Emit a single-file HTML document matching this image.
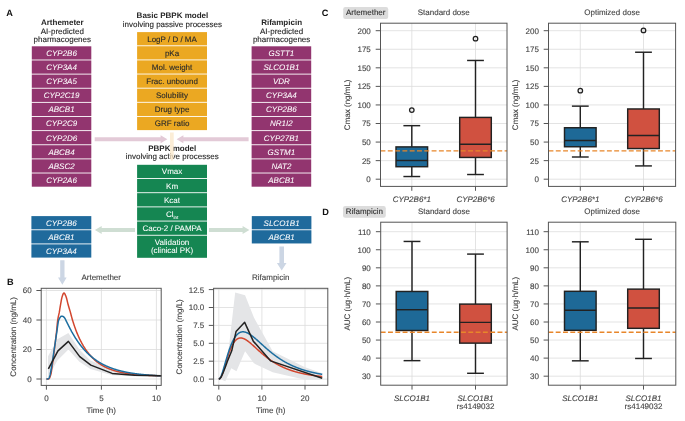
<!DOCTYPE html>
<html><head><meta charset="utf-8"><style>
html,body{margin:0;padding:0;background:#fff;}
svg{display:block;font-family:"Liberation Sans", sans-serif;text-rendering:geometricPrecision;will-change:transform;}
</style></head><body>
<svg width="685" height="421" viewBox="0 0 685 421" font-family='"Liberation Sans", sans-serif'>
<rect width="685" height="421" fill="#fff"/>
<text x="6.20" y="15.90" font-size="9.2" text-anchor="start" font-weight="bold" fill="#111" >A</text>
<text x="7.00" y="285.20" font-size="9.2" text-anchor="start" font-weight="bold" fill="#111" >B</text>
<text x="321.80" y="16.20" font-size="9.2" text-anchor="start" font-weight="bold" fill="#111" >C</text>
<text x="322.20" y="215.20" font-size="9.2" text-anchor="start" font-weight="bold" fill="#111" >D</text>
<text x="62.30" y="24.90" font-size="8" text-anchor="middle" font-weight="bold" fill="#262626" >Arthemeter</text>
<text x="62.30" y="33.50" font-size="8" text-anchor="middle" fill="#262626" stroke="#262626" stroke-width="0.12" >AI-predicted</text>
<text x="62.30" y="41.60" font-size="8" text-anchor="middle" fill="#262626" stroke="#262626" stroke-width="0.12" >pharmacogenes</text>
<text x="281.60" y="24.90" font-size="8" text-anchor="middle" font-weight="bold" fill="#262626" >Rifampicin</text>
<text x="281.60" y="33.50" font-size="8" text-anchor="middle" fill="#262626" stroke="#262626" stroke-width="0.12" >AI-predicted</text>
<text x="281.60" y="41.60" font-size="8" text-anchor="middle" fill="#262626" stroke="#262626" stroke-width="0.12" >pharmacogenes</text>
<text x="172.40" y="18.40" font-size="8" text-anchor="middle" font-weight="bold" fill="#262626" >Basic PBPK model</text>
<text x="172.40" y="26.80" font-size="8" text-anchor="middle" fill="#262626" stroke="#262626" stroke-width="0.12" >involving passive processes</text>
<text x="172.20" y="150.90" font-size="8" text-anchor="middle" font-weight="bold" fill="#262626" >PBPK model</text>
<text x="172.20" y="159.00" font-size="8" text-anchor="middle" fill="#262626" stroke="#262626" stroke-width="0.12" >involving active processes</text>
<rect x="31.80" y="46.30" width="59.50" height="13.23" fill="#92356F" />
<text x="61.55" y="55.81" font-size="8" text-anchor="middle" font-style="italic" fill="#fff" stroke="#fff" stroke-width="0.05" >CYP2B6</text>
<rect x="31.80" y="60.43" width="59.50" height="13.23" fill="#92356F" />
<text x="61.55" y="69.95" font-size="8" text-anchor="middle" font-style="italic" fill="#fff" stroke="#fff" stroke-width="0.05" >CYP3A4</text>
<rect x="31.80" y="74.56" width="59.50" height="13.23" fill="#92356F" />
<text x="61.55" y="84.08" font-size="8" text-anchor="middle" font-style="italic" fill="#fff" stroke="#fff" stroke-width="0.05" >CYP3A5</text>
<rect x="31.80" y="88.69" width="59.50" height="13.23" fill="#92356F" />
<text x="61.55" y="98.20" font-size="8" text-anchor="middle" font-style="italic" fill="#fff" stroke="#fff" stroke-width="0.05" >CYP2C19</text>
<rect x="31.80" y="102.82" width="59.50" height="13.23" fill="#92356F" />
<text x="61.55" y="112.33" font-size="8" text-anchor="middle" font-style="italic" fill="#fff" stroke="#fff" stroke-width="0.05" >ABCB1</text>
<rect x="31.80" y="116.95" width="59.50" height="13.23" fill="#92356F" />
<text x="61.55" y="126.46" font-size="8" text-anchor="middle" font-style="italic" fill="#fff" stroke="#fff" stroke-width="0.05" >CYP2C9</text>
<rect x="31.80" y="131.08" width="59.50" height="13.23" fill="#92356F" />
<text x="61.55" y="140.59" font-size="8" text-anchor="middle" font-style="italic" fill="#fff" stroke="#fff" stroke-width="0.05" >CYP2D6</text>
<rect x="31.80" y="145.21" width="59.50" height="13.23" fill="#92356F" />
<text x="61.55" y="154.72" font-size="8" text-anchor="middle" font-style="italic" fill="#fff" stroke="#fff" stroke-width="0.05" >ABCB4</text>
<rect x="31.80" y="159.34" width="59.50" height="13.23" fill="#92356F" />
<text x="61.55" y="168.85" font-size="8" text-anchor="middle" font-style="italic" fill="#fff" stroke="#fff" stroke-width="0.05" >ABSC2</text>
<rect x="31.80" y="173.47" width="59.50" height="13.23" fill="#92356F" />
<text x="61.55" y="182.98" font-size="8" text-anchor="middle" font-style="italic" fill="#fff" stroke="#fff" stroke-width="0.05" >CYP2A6</text>
<rect x="251.60" y="46.30" width="59.60" height="13.23" fill="#92356F" />
<text x="281.40" y="55.81" font-size="8" text-anchor="middle" font-style="italic" fill="#fff" stroke="#fff" stroke-width="0.05" >GSTT1</text>
<rect x="251.60" y="60.43" width="59.60" height="13.23" fill="#92356F" />
<text x="281.40" y="69.95" font-size="8" text-anchor="middle" font-style="italic" fill="#fff" stroke="#fff" stroke-width="0.05" >SLCO1B1</text>
<rect x="251.60" y="74.56" width="59.60" height="13.23" fill="#92356F" />
<text x="281.40" y="84.08" font-size="8" text-anchor="middle" font-style="italic" fill="#fff" stroke="#fff" stroke-width="0.05" >VDR</text>
<rect x="251.60" y="88.69" width="59.60" height="13.23" fill="#92356F" />
<text x="281.40" y="98.20" font-size="8" text-anchor="middle" font-style="italic" fill="#fff" stroke="#fff" stroke-width="0.05" >CYP3A4</text>
<rect x="251.60" y="102.82" width="59.60" height="13.23" fill="#92356F" />
<text x="281.40" y="112.33" font-size="8" text-anchor="middle" font-style="italic" fill="#fff" stroke="#fff" stroke-width="0.05" >CYP2B6</text>
<rect x="251.60" y="116.95" width="59.60" height="13.23" fill="#92356F" />
<text x="281.40" y="126.46" font-size="8" text-anchor="middle" font-style="italic" fill="#fff" stroke="#fff" stroke-width="0.05" >NR1I2</text>
<rect x="251.60" y="131.08" width="59.60" height="13.23" fill="#92356F" />
<text x="281.40" y="140.59" font-size="8" text-anchor="middle" font-style="italic" fill="#fff" stroke="#fff" stroke-width="0.05" >CYP27B1</text>
<rect x="251.60" y="145.21" width="59.60" height="13.23" fill="#92356F" />
<text x="281.40" y="154.72" font-size="8" text-anchor="middle" font-style="italic" fill="#fff" stroke="#fff" stroke-width="0.05" >GSTM1</text>
<rect x="251.60" y="159.34" width="59.60" height="13.23" fill="#92356F" />
<text x="281.40" y="168.85" font-size="8" text-anchor="middle" font-style="italic" fill="#fff" stroke="#fff" stroke-width="0.05" >NAT2</text>
<rect x="251.60" y="173.47" width="59.60" height="13.23" fill="#92356F" />
<text x="281.40" y="182.98" font-size="8" text-anchor="middle" font-style="italic" fill="#fff" stroke="#fff" stroke-width="0.05" >ABCB1</text>
<rect x="137.10" y="32.10" width="69.90" height="13.23" fill="#EBA822" />
<text x="172.05" y="41.62" font-size="8" text-anchor="middle" fill="#2a2a2a" stroke="#2a2a2a" stroke-width="0.12" >LogP / D / MA</text>
<rect x="137.10" y="46.23" width="69.90" height="13.23" fill="#EBA822" />
<text x="172.05" y="55.75" font-size="8" text-anchor="middle" fill="#2a2a2a" stroke="#2a2a2a" stroke-width="0.12" >pKa</text>
<rect x="137.10" y="60.36" width="69.90" height="13.23" fill="#EBA822" />
<text x="172.05" y="69.88" font-size="8" text-anchor="middle" fill="#2a2a2a" stroke="#2a2a2a" stroke-width="0.12" >Mol. weight</text>
<rect x="137.10" y="74.49" width="69.90" height="13.23" fill="#EBA822" />
<text x="172.05" y="84.01" font-size="8" text-anchor="middle" fill="#2a2a2a" stroke="#2a2a2a" stroke-width="0.12" >Frac. unbound</text>
<rect x="137.10" y="88.62" width="69.90" height="13.23" fill="#EBA822" />
<text x="172.05" y="98.14" font-size="8" text-anchor="middle" fill="#2a2a2a" stroke="#2a2a2a" stroke-width="0.12" >Solubility</text>
<rect x="137.10" y="102.75" width="69.90" height="13.23" fill="#EBA822" />
<text x="172.05" y="112.27" font-size="8" text-anchor="middle" fill="#2a2a2a" stroke="#2a2a2a" stroke-width="0.12" >Drug type</text>
<rect x="137.10" y="116.88" width="69.90" height="13.23" fill="#EBA822" />
<text x="172.05" y="126.39" font-size="8" text-anchor="middle" fill="#2a2a2a" stroke="#2a2a2a" stroke-width="0.12" >GRF ratio</text>
<rect x="137.10" y="164.80" width="69.90" height="13.28" fill="#158652" />
<text x="172.05" y="174.34" font-size="8" text-anchor="middle" fill="#fff" stroke="#fff" stroke-width="0.05" >Vmax</text>
<rect x="137.10" y="178.98" width="69.90" height="13.28" fill="#158652" />
<text x="172.05" y="188.52" font-size="8" text-anchor="middle" fill="#fff" stroke="#fff" stroke-width="0.05" >Km</text>
<rect x="137.10" y="193.16" width="69.90" height="13.28" fill="#158652" />
<text x="172.05" y="202.70" font-size="8" text-anchor="middle" fill="#fff" stroke="#fff" stroke-width="0.05" >Kcat</text>
<rect x="137.10" y="207.34" width="69.90" height="13.28" fill="#158652" />
<text x="172.05" y="216.88" font-size="8" text-anchor="middle" fill="#fff" stroke="#fff" stroke-width="0.05" >Cl<tspan font-size="4.5" dy="2.2">int</tspan></text>
<rect x="137.10" y="221.52" width="69.90" height="13.28" fill="#158652" />
<text x="172.05" y="231.06" font-size="8" text-anchor="middle" fill="#fff" stroke="#fff" stroke-width="0.05" >Caco-2 / PAMPA</text>
<rect x="137.10" y="235.70" width="69.90" height="22.10" fill="#158652" />
<text x="172.05" y="245.00" font-size="8" text-anchor="middle" fill="#fff" stroke="#fff" stroke-width="0.05" >Validation</text>
<text x="172.05" y="253.10" font-size="8" text-anchor="middle" fill="#fff" stroke="#fff" stroke-width="0.05" >(clinical PK)</text>
<rect x="31.40" y="216.10" width="59.90" height="13.23" fill="#1F6A9C" />
<text x="61.35" y="225.62" font-size="8" text-anchor="middle" font-style="italic" fill="#fff" stroke="#fff" stroke-width="0.05" >CYP2B6</text>
<rect x="31.40" y="230.23" width="59.90" height="13.23" fill="#1F6A9C" />
<text x="61.35" y="239.75" font-size="8" text-anchor="middle" font-style="italic" fill="#fff" stroke="#fff" stroke-width="0.05" >ABCB1</text>
<rect x="31.40" y="244.36" width="59.90" height="13.23" fill="#1F6A9C" />
<text x="61.35" y="253.88" font-size="8" text-anchor="middle" font-style="italic" fill="#fff" stroke="#fff" stroke-width="0.05" >CYP3A4</text>
<rect x="251.80" y="216.10" width="59.60" height="13.23" fill="#1F6A9C" />
<text x="281.60" y="225.62" font-size="8" text-anchor="middle" font-style="italic" fill="#fff" stroke="#fff" stroke-width="0.05" >SLCO1B1</text>
<rect x="251.80" y="230.23" width="59.60" height="13.23" fill="#1F6A9C" />
<text x="281.60" y="239.75" font-size="8" text-anchor="middle" font-style="italic" fill="#fff" stroke="#fff" stroke-width="0.05" >ABCB1</text>
<polygon points="94.70,137.35 160.60,137.35 160.60,135.25 167.40,139.25 160.60,143.25 160.60,141.15 94.70,141.15" fill="#E3CAD7"/>
<polygon points="248.60,137.35 183.40,137.35 183.40,135.25 176.60,139.25 183.40,143.25 183.40,141.15 248.60,141.15" fill="#E3CAD7"/>
<polygon points="135.00,228.05 101.70,228.05 101.70,225.90 94.90,230.00 101.70,234.10 101.70,231.95 135.00,231.95" fill="#CFDED3"/>
<polygon points="209.00,228.05 242.60,228.05 242.60,225.90 249.40,230.00 242.60,234.10 242.60,231.95 209.00,231.95" fill="#CFDED3"/>
<polygon points="60.20,260.20 64.50,260.20 64.50,277.40 66.65,277.40 62.35,284.80 58.05,277.40 60.20,277.40" fill="#CCD6E4" />
<polygon points="279.40,246.60 284.00,246.60 284.00,263.00 286.50,263.00 281.70,270.60 276.90,263.00 279.40,263.00" fill="#CCD6E4" />
<polygon points="170.0,132.4 173.7,132.4 173.7,158.5 171.85,161.2 170.0,158.5" fill="#FAE7C8" opacity="0.75"/>
<g>
<clipPath id="cpL"><rect x="41.2" y="288.3" width="120" height="97.1"/></clipPath>
<line x1="46.40" y1="288.30" x2="46.40" y2="385.40" stroke="#DCDCDC" stroke-width="0.8" />
<line x1="101.40" y1="288.30" x2="101.40" y2="385.40" stroke="#DCDCDC" stroke-width="0.8" />
<line x1="156.40" y1="288.30" x2="156.40" y2="385.40" stroke="#DCDCDC" stroke-width="0.8" />
<line x1="41.20" y1="379.00" x2="161.20" y2="379.00" stroke="#DCDCDC" stroke-width="0.8" />
<line x1="41.20" y1="349.50" x2="161.20" y2="349.50" stroke="#DCDCDC" stroke-width="0.8" />
<line x1="41.20" y1="320.00" x2="161.20" y2="320.00" stroke="#DCDCDC" stroke-width="0.8" />
<line x1="41.20" y1="290.50" x2="161.20" y2="290.50" stroke="#DCDCDC" stroke-width="0.8" />
<g clip-path="url(#cpL)">
<polygon points="48.05,356.14 57.40,339.18 68.40,332.98 79.40,349.50 90.40,360.56 112.40,369.41 134.40,373.84 161.90,375.17 161.90,376.64 134.40,376.20 112.40,375.31 90.40,368.97 79.40,361.74 68.40,349.50 57.40,360.56 48.05,377.52" fill="#E4E5E7"/>
<polyline points="46.40,379.00 46.69,379.00 46.98,379.00 47.28,379.00 47.57,379.00 47.86,379.00 48.15,379.00 48.45,379.00 48.74,378.98 49.03,378.77 49.32,378.38 49.61,377.83 49.91,377.15 50.20,376.38 50.49,375.52 50.78,374.63 51.08,373.47 51.37,371.87 51.66,369.94 51.95,367.84 52.24,365.70 52.54,363.65 52.83,361.56 53.12,359.39 53.41,357.14 53.71,354.85 54.00,352.52 54.29,350.17 54.58,347.83 54.87,345.49 55.17,343.16 55.46,340.81 55.75,338.41 56.04,335.96 56.34,333.44 56.63,330.79 56.92,327.76 57.21,324.63 57.50,321.77 57.80,319.56 58.09,317.86 58.38,316.41 58.67,315.10 58.97,313.80 59.26,312.39 59.55,310.76 59.84,308.95 60.13,307.08 60.43,305.29 60.72,303.66 61.01,302.04 61.30,300.44 61.60,298.95 61.89,297.64 62.18,296.58 62.47,295.72 62.76,294.88 63.06,294.13 63.35,293.52 63.64,293.12 63.93,293.01 64.23,293.14 64.52,293.44 64.81,293.89 65.10,294.44 65.39,295.06 65.69,295.73 65.98,296.40 66.27,297.19 66.56,298.19 66.86,299.34 67.15,300.57 67.44,301.84 67.73,303.07 68.03,304.20 68.32,305.24 68.61,306.26 68.90,307.27 69.19,308.26 69.49,309.23 69.78,310.18 70.07,311.11 70.36,312.12 70.66,313.28 70.95,314.42 71.24,315.53 71.53,316.61 71.82,317.66 72.12,318.69 72.41,319.69 72.70,320.68 72.99,321.63 73.29,322.57 73.58,323.49 73.87,324.39 74.16,325.27 74.45,326.13 74.75,326.97 75.04,327.80 75.33,328.61 75.62,329.40 75.92,330.18 76.21,330.94 76.50,331.69 76.79,332.42 77.08,333.14 77.38,333.85 77.67,334.54 77.96,335.22 78.25,335.89 78.55,336.55 78.84,337.19 79.13,337.82 79.42,338.44 79.71,339.06 80.01,339.66 80.30,340.25 80.59,340.83 80.88,341.40 81.18,341.96 81.47,342.51 81.76,343.05 82.05,343.58 82.34,344.10 82.64,344.62 82.93,345.12 83.22,345.62 83.51,346.11 83.81,346.59 84.10,347.06 84.39,347.53 84.68,347.99 84.97,348.44 85.27,348.88 85.56,349.32 85.85,349.75 86.14,350.17 86.44,350.58 86.73,350.99 87.02,351.39 87.31,351.79 87.60,352.17 87.90,352.56 88.19,352.93 88.48,353.30 88.77,353.67 89.07,354.03 89.36,354.38 89.65,354.73 89.94,355.07 90.23,355.40 90.53,355.73 90.82,356.06 91.11,356.38 91.40,356.69 91.70,357.00 91.99,357.31 92.28,357.61 92.57,357.90 92.86,358.19 93.16,358.48 93.45,358.76 93.74,359.04 94.03,359.31 94.33,359.58 94.62,359.84 94.91,360.10 95.20,360.36 95.49,360.61 95.79,360.86 96.08,361.10 96.37,361.34 96.66,361.58 96.96,361.81 97.25,362.04 97.54,362.26 97.83,362.48 98.12,362.70 98.42,362.92 98.71,363.13 99.00,363.33 99.29,363.54 99.59,363.74 99.88,363.94 100.17,364.13 100.46,364.32 100.75,364.51 101.05,364.70 101.34,364.88 101.63,365.06 101.92,365.24 102.22,365.41 102.51,365.58 102.80,365.75 103.09,365.92 103.38,366.08 103.68,366.24 103.97,366.40 104.26,366.56 104.55,366.71 104.85,366.86 105.14,367.01 105.43,367.15 105.72,367.30 106.02,367.44 106.31,367.58 106.60,367.72 106.89,367.85 107.18,367.98 107.48,368.11 107.77,368.24 108.06,368.37 108.35,368.49 108.65,368.62 108.94,368.74 109.23,368.86 109.52,368.97 109.81,369.09 110.11,369.20 110.40,369.31 110.69,369.42 110.98,369.53 111.28,369.64 111.57,369.74 111.86,369.84 112.15,369.94 112.44,370.04 112.74,370.14 113.03,370.24 113.32,370.33 113.61,370.43 113.91,370.52 114.20,370.61 114.49,370.70 114.78,370.79 115.07,370.87 115.37,370.96 115.66,371.04 115.95,371.12 116.24,371.20 116.54,371.28 116.83,371.36 117.12,371.44 117.41,371.52 117.70,371.59 118.00,371.66 118.29,371.74 118.58,371.81 118.87,371.88 119.17,371.95 119.46,372.01 119.75,372.08 120.04,372.15 120.33,372.21 120.63,372.27 120.92,372.34 121.21,372.40 121.50,372.46 121.80,372.52 122.09,372.58 122.38,372.64 122.67,372.69 122.96,372.75 123.26,372.80 123.55,372.86 123.84,372.91 124.13,372.97 124.43,373.02 124.72,373.07 125.01,373.12 125.30,373.17 125.59,373.22 125.89,373.26 126.18,373.31 126.47,373.36 126.76,373.40 127.06,373.45 127.35,373.49 127.64,373.54 127.93,373.58 128.22,373.62 128.52,373.66 128.81,373.70 129.10,373.74 129.39,373.78 129.69,373.82 129.98,373.86 130.27,373.90 130.56,373.93 130.85,373.97 131.15,374.01 131.44,374.04 131.73,374.08 132.02,374.11 132.32,374.14 132.61,374.18 132.90,374.21 133.19,374.24 133.48,374.27 133.78,374.30 134.07,374.33 134.36,374.36 134.65,374.39 134.95,374.42 135.24,374.45 135.53,374.48 135.82,374.51 136.11,374.54 136.41,374.56 136.70,374.59 136.99,374.61 137.28,374.64 137.58,374.67 137.87,374.69 138.16,374.71 138.45,374.74 138.74,374.76 139.04,374.79 139.33,374.81 139.62,374.83 139.91,374.85 140.21,374.88 140.50,374.90 140.79,374.92 141.08,374.94 141.37,374.96 141.67,374.98 141.96,375.00 142.25,375.02 142.54,375.04 142.84,375.06 143.13,375.08 143.42,375.09 143.71,375.11 144.01,375.13 144.30,375.15 144.59,375.17 144.88,375.18 145.17,375.20 145.47,375.22 145.76,375.23 146.05,375.25 146.34,375.26 146.64,375.28 146.93,375.29 147.22,375.31 147.51,375.32 147.80,375.34 148.10,375.35 148.39,375.37 148.68,375.38 148.97,375.39 149.27,375.41 149.56,375.42 149.85,375.43 150.14,375.44 150.43,375.46 150.73,375.47 151.02,375.48 151.31,375.49 151.60,375.51 151.90,375.52 152.19,375.53 152.48,375.54 152.77,375.55 153.06,375.56 153.36,375.57 153.65,375.58 153.94,375.59 154.23,375.60 154.53,375.61 154.82,375.62 155.11,375.63 155.40,375.64 155.69,375.65 155.99,375.66 156.28,375.67 156.57,375.68 156.86,375.69 157.16,375.70 157.45,375.70 157.74,375.71 158.03,375.72 158.32,375.73 158.62,375.74 158.91,375.75 159.20,375.75 159.49,375.76 159.79,375.77 160.08,375.78 160.37,375.78 160.66,375.79 160.95,375.80 161.25,375.80 161.54,375.81 161.83,375.82 162.12,375.82 162.42,375.83 162.71,375.84 163.00,375.84" fill="none" stroke="#D2462E" stroke-width="1.5" stroke-linejoin="round"/>
<polyline points="46.40,379.00 46.69,379.00 46.98,378.98 47.28,378.96 47.57,378.92 47.86,378.88 48.15,378.82 48.45,378.62 48.74,378.28 49.03,377.84 49.32,377.32 49.61,376.64 49.91,375.65 50.20,374.41 50.49,373.00 50.78,371.51 51.08,370.01 51.37,368.37 51.66,366.54 51.95,364.61 52.24,362.65 52.54,360.73 52.83,358.80 53.12,356.83 53.41,354.85 53.71,352.88 54.00,350.92 54.29,348.96 54.58,347.00 54.87,345.04 55.17,343.08 55.46,341.10 55.75,339.12 56.04,337.15 56.34,335.19 56.63,333.25 56.92,331.33 57.21,329.24 57.50,327.01 57.80,324.82 58.09,322.83 58.38,321.21 58.67,320.11 58.97,319.46 59.26,318.85 59.55,318.30 59.84,317.79 60.13,317.34 60.43,316.96 60.72,316.64 61.01,316.40 61.30,316.24 61.60,316.17 61.89,316.17 62.18,316.20 62.47,316.26 62.76,316.36 63.06,316.49 63.35,316.66 63.64,316.88 63.93,317.14 64.23,317.45 64.52,317.81 64.81,318.22 65.10,318.70 65.39,319.24 65.69,319.84 65.98,320.45 66.27,321.05 66.56,321.65 66.86,322.24 67.15,322.84 67.44,323.43 67.73,324.02 68.03,324.60 68.32,325.18 68.61,325.76 68.90,326.34 69.19,326.91 69.49,327.47 69.78,328.04 70.07,328.59 70.36,329.15 70.66,329.69 70.95,330.24 71.24,330.77 71.53,331.31 71.82,331.84 72.12,332.36 72.41,332.88 72.70,333.39 72.99,333.90 73.29,334.40 73.58,334.90 73.87,335.39 74.16,335.88 74.45,336.36 74.75,336.84 75.04,337.31 75.33,337.78 75.62,338.24 75.92,338.69 76.21,339.15 76.50,339.59 76.79,340.03 77.08,340.47 77.38,340.90 77.67,341.33 77.96,341.75 78.25,342.17 78.55,342.58 78.84,342.99 79.13,343.39 79.42,343.79 79.71,344.19 80.01,344.58 80.30,344.96 80.59,345.34 80.88,345.72 81.18,346.09 81.47,346.46 81.76,346.82 82.05,347.18 82.34,347.53 82.64,347.88 82.93,348.23 83.22,348.57 83.51,348.91 83.81,349.24 84.10,349.58 84.39,349.90 84.68,350.22 84.97,350.54 85.27,350.86 85.56,351.17 85.85,351.48 86.14,351.78 86.44,352.08 86.73,352.38 87.02,352.67 87.31,352.96 87.60,353.25 87.90,353.53 88.19,353.81 88.48,354.09 88.77,354.36 89.07,354.63 89.36,354.90 89.65,355.16 89.94,355.42 90.23,355.68 90.53,355.93 90.82,356.18 91.11,356.43 91.40,356.68 91.70,356.92 91.99,357.16 92.28,357.40 92.57,357.63 92.86,357.86 93.16,358.09 93.45,358.31 93.74,358.54 94.03,358.76 94.33,358.98 94.62,359.19 94.91,359.40 95.20,359.61 95.49,359.82 95.79,360.03 96.08,360.23 96.37,360.43 96.66,360.63 96.96,360.82 97.25,361.01 97.54,361.20 97.83,361.39 98.12,361.58 98.42,361.76 98.71,361.95 99.00,362.12 99.29,362.30 99.59,362.48 99.88,362.65 100.17,362.82 100.46,362.99 100.75,363.16 101.05,363.32 101.34,363.49 101.63,363.65 101.92,363.81 102.22,363.97 102.51,364.12 102.80,364.27 103.09,364.43 103.38,364.58 103.68,364.73 103.97,364.87 104.26,365.02 104.55,365.16 104.85,365.30 105.14,365.44 105.43,365.58 105.72,365.72 106.02,365.85 106.31,365.98 106.60,366.11 106.89,366.24 107.18,366.37 107.48,366.50 107.77,366.63 108.06,366.75 108.35,366.87 108.65,366.99 108.94,367.11 109.23,367.23 109.52,367.35 109.81,367.46 110.11,367.58 110.40,367.69 110.69,367.80 110.98,367.91 111.28,368.02 111.57,368.13 111.86,368.23 112.15,368.34 112.44,368.44 112.74,368.54 113.03,368.64 113.32,368.74 113.61,368.84 113.91,368.94 114.20,369.04 114.49,369.13 114.78,369.23 115.07,369.32 115.37,369.41 115.66,369.50 115.95,369.59 116.24,369.68 116.54,369.77 116.83,369.85 117.12,369.94 117.41,370.02 117.70,370.11 118.00,370.19 118.29,370.27 118.58,370.35 118.87,370.43 119.17,370.51 119.46,370.59 119.75,370.66 120.04,370.74 120.33,370.81 120.63,370.89 120.92,370.96 121.21,371.03 121.50,371.11 121.80,371.18 122.09,371.25 122.38,371.31 122.67,371.38 122.96,371.45 123.26,371.52 123.55,371.58 123.84,371.65 124.13,371.71 124.43,371.77 124.72,371.84 125.01,371.90 125.30,371.96 125.59,372.02 125.89,372.08 126.18,372.14 126.47,372.20 126.76,372.25 127.06,372.31 127.35,372.37 127.64,372.42 127.93,372.48 128.22,372.53 128.52,372.59 128.81,372.64 129.10,372.69 129.39,372.74 129.69,372.79 129.98,372.84 130.27,372.89 130.56,372.94 130.85,372.99 131.15,373.04 131.44,373.09 131.73,373.13 132.02,373.18 132.32,373.23 132.61,373.27 132.90,373.32 133.19,373.36 133.48,373.40 133.78,373.45 134.07,373.49 134.36,373.53 134.65,373.57 134.95,373.62 135.24,373.66 135.53,373.70 135.82,373.74 136.11,373.78 136.41,373.81 136.70,373.85 136.99,373.89 137.28,373.93 137.58,373.96 137.87,374.00 138.16,374.04 138.45,374.07 138.74,374.11 139.04,374.14 139.33,374.18 139.62,374.21 139.91,374.24 140.21,374.28 140.50,374.31 140.79,374.34 141.08,374.37 141.37,374.41 141.67,374.44 141.96,374.47 142.25,374.50 142.54,374.53 142.84,374.56 143.13,374.59 143.42,374.62 143.71,374.65 144.01,374.67 144.30,374.70 144.59,374.73 144.88,374.76 145.17,374.78 145.47,374.81 145.76,374.84 146.05,374.86 146.34,374.89 146.64,374.92 146.93,374.94 147.22,374.97 147.51,374.99 147.80,375.01 148.10,375.04 148.39,375.06 148.68,375.09 148.97,375.11 149.27,375.13 149.56,375.15 149.85,375.18 150.14,375.20 150.43,375.22 150.73,375.24 151.02,375.26 151.31,375.28 151.60,375.30 151.90,375.33 152.19,375.35 152.48,375.37 152.77,375.39 153.06,375.40 153.36,375.42 153.65,375.44 153.94,375.46 154.23,375.48 154.53,375.50 154.82,375.52 155.11,375.54 155.40,375.55 155.69,375.57 155.99,375.59 156.28,375.61 156.57,375.62 156.86,375.64 157.16,375.66 157.45,375.67 157.74,375.69 158.03,375.70 158.32,375.72 158.62,375.74 158.91,375.75 159.20,375.77 159.49,375.78 159.79,375.80 160.08,375.81 160.37,375.83 160.66,375.84 160.95,375.85 161.25,375.87 161.54,375.88 161.83,375.90 162.12,375.91 162.42,375.92 162.71,375.94 163.00,375.95" fill="none" stroke="#1C6EA0" stroke-width="1.5" stroke-linejoin="round"/>
<polyline points="48.38,368.82 57.95,350.83 68.40,341.39 79.73,356.58 90.84,365.13 112.18,373.39 134.40,375.17 163.00,375.90" fill="none" stroke="#222222" stroke-width="1.5" stroke-linejoin="round" stroke-linecap="butt"/>
</g>
<rect x="41.20" y="288.30" width="120.00" height="97.10" fill="none" stroke="#555555" stroke-width="1"/>
<line x1="46.40" y1="385.40" x2="46.40" y2="389.70" stroke="#555555" stroke-width="1" />
<text x="46.40" y="400.90" font-size="8" text-anchor="middle" fill="#444444" stroke="#444444" stroke-width="0.12" >0</text>
<line x1="101.40" y1="385.40" x2="101.40" y2="389.70" stroke="#555555" stroke-width="1" />
<text x="101.40" y="400.90" font-size="8" text-anchor="middle" fill="#444444" stroke="#444444" stroke-width="0.12" >5</text>
<line x1="156.40" y1="385.40" x2="156.40" y2="389.70" stroke="#555555" stroke-width="1" />
<text x="156.40" y="400.90" font-size="8" text-anchor="middle" fill="#444444" stroke="#444444" stroke-width="0.12" >10</text>
<line x1="36.40" y1="379.00" x2="41.20" y2="379.00" stroke="#555555" stroke-width="1" />
<text x="31.60" y="381.90" font-size="8" text-anchor="end" fill="#444444" stroke="#444444" stroke-width="0.12" >0</text>
<line x1="36.40" y1="349.50" x2="41.20" y2="349.50" stroke="#555555" stroke-width="1" />
<text x="31.60" y="352.40" font-size="8" text-anchor="end" fill="#444444" stroke="#444444" stroke-width="0.12" >20</text>
<line x1="36.40" y1="320.00" x2="41.20" y2="320.00" stroke="#555555" stroke-width="1" />
<text x="31.60" y="322.90" font-size="8" text-anchor="end" fill="#444444" stroke="#444444" stroke-width="0.12" >40</text>
<line x1="36.40" y1="290.50" x2="41.20" y2="290.50" stroke="#555555" stroke-width="1" />
<text x="31.60" y="293.40" font-size="8" text-anchor="end" fill="#444444" stroke="#444444" stroke-width="0.12" >60</text>
<text x="101.20" y="413.40" font-size="8" text-anchor="middle" fill="#444444" stroke="#444444" stroke-width="0.12" >Time (h)</text>
<text x="13.20" y="336.85" font-size="8" text-anchor="middle" fill="#444444" stroke="#444444" stroke-width="0.12" transform="rotate(-90 13.20 336.85)" dominant-baseline="central">Concentration (ng/mL)</text>
<text x="101.20" y="279.80" font-size="8" text-anchor="middle" fill="#444444" stroke="#444444" stroke-width="0.12" >Artemether</text>
</g>
<clipPath id="cpR"><rect x="213.6" y="288.3" width="114.2" height="97.0"/></clipPath>
<line x1="218.80" y1="288.30" x2="218.80" y2="385.30" stroke="#DCDCDC" stroke-width="0.8" />
<line x1="261.90" y1="288.30" x2="261.90" y2="385.30" stroke="#DCDCDC" stroke-width="0.8" />
<line x1="305.00" y1="288.30" x2="305.00" y2="385.30" stroke="#DCDCDC" stroke-width="0.8" />
<line x1="213.60" y1="379.10" x2="327.80" y2="379.10" stroke="#DCDCDC" stroke-width="0.8" />
<line x1="213.60" y1="361.20" x2="327.80" y2="361.20" stroke="#DCDCDC" stroke-width="0.8" />
<line x1="213.60" y1="343.30" x2="327.80" y2="343.30" stroke="#DCDCDC" stroke-width="0.8" />
<line x1="213.60" y1="325.40" x2="327.80" y2="325.40" stroke="#DCDCDC" stroke-width="0.8" />
<line x1="213.60" y1="307.50" x2="327.80" y2="307.50" stroke="#DCDCDC" stroke-width="0.8" />
<line x1="213.60" y1="289.60" x2="327.80" y2="289.60" stroke="#DCDCDC" stroke-width="0.8" />
<g clip-path="url(#cpR)">
<polygon points="220.31,379.10 227.42,359.77 235.18,292.46 245.09,295.33 253.93,317.52 272.68,351.18 305.00,367.29 322.24,373.37 322.24,379.82 305.00,379.82 272.68,372.30 253.93,363.35 245.09,351.18 236.47,371.22 231.30,368.36 225.27,381.25 220.31,379.10" fill="#E4E5E7"/>
<polyline points="218.80,379.10 219.06,379.08 219.32,379.00 219.58,378.86 219.84,378.66 220.10,378.40 220.36,378.08 220.61,377.70 220.87,377.26 221.13,376.78 221.39,376.24 221.65,375.66 221.91,375.05 222.17,374.39 222.43,373.70 222.69,372.98 222.95,372.23 223.21,371.46 223.47,370.67 223.73,369.86 223.98,369.03 224.24,368.20 224.50,367.35 224.76,366.49 225.02,365.63 225.28,364.77 225.54,363.91 225.80,363.04 226.06,362.18 226.32,361.33 226.58,360.48 226.84,359.63 227.10,358.80 227.36,357.98 227.61,357.16 227.87,356.36 228.13,355.57 228.39,354.80 228.65,354.04 228.91,353.30 229.17,352.57 229.43,351.86 229.69,351.16 229.95,350.49 230.21,349.83 230.47,349.19 230.73,348.56 230.98,347.96 231.24,347.38 231.50,346.81 231.76,346.26 232.02,345.74 232.28,345.23 232.54,344.74 232.80,344.27 233.06,343.82 233.32,343.38 233.58,342.97 233.84,342.57 234.10,342.20 234.35,341.84 234.61,341.50 234.87,341.17 235.13,340.87 235.39,340.58 235.65,340.31 235.91,340.05 236.17,339.82 236.43,339.59 236.69,339.39 236.95,339.20 237.21,339.02 237.47,338.86 237.73,338.71 237.98,338.58 238.24,338.46 238.50,338.36 238.76,338.27 239.02,338.19 239.28,338.12 239.54,338.07 239.80,338.03 240.06,338.00 240.32,337.98 240.58,337.97 240.84,337.98 241.10,337.99 241.35,338.01 241.61,338.05 241.87,338.09 242.13,338.14 242.39,338.20 242.65,338.27 242.91,338.35 243.17,338.44 243.43,338.53 243.69,338.63 243.95,338.74 244.21,338.86 244.47,338.98 244.72,339.11 244.98,339.24 245.24,339.39 245.50,339.53 245.76,339.68 246.02,339.84 246.28,340.00 246.54,340.17 246.80,340.34 247.06,340.52 247.32,340.70 247.58,340.89 247.84,341.08 248.10,341.27 248.35,341.46 248.61,341.66 248.87,341.87 249.13,342.07 249.39,342.28 249.65,342.49 249.91,342.70 250.17,342.92 250.43,343.14 250.69,343.36 250.95,343.58 251.21,343.80 251.47,344.03 251.72,344.26 251.98,344.48 252.24,344.71 252.50,344.95 252.76,345.18 253.02,345.41 253.28,345.65 253.54,345.88 253.80,346.12 254.06,346.35 254.32,346.59 254.58,346.83 254.84,347.06 255.09,347.30 255.35,347.54 255.61,347.78 255.87,348.01 256.13,348.25 256.39,348.49 256.65,348.73 256.91,348.97 257.17,349.20 257.43,349.44 257.69,349.68 257.95,349.91 258.21,350.15 258.46,350.38 258.72,350.62 258.98,350.85 259.24,351.08 259.50,351.31 259.76,351.55 260.02,351.78 260.28,352.01 260.54,352.23 260.80,352.46 261.06,352.69 261.32,352.92 261.58,353.14 261.84,353.36 262.09,353.59 262.35,353.81 262.61,354.03 262.87,354.25 263.13,354.47 263.39,354.68 263.65,354.90 263.91,355.11 264.17,355.33 264.43,355.54 264.69,355.75 264.95,355.96 265.21,356.17 265.46,356.37 265.72,356.58 265.98,356.78 266.24,356.99 266.50,357.19 266.76,357.39 267.02,357.59 267.28,357.79 267.54,357.98 267.80,358.18 268.06,358.37 268.32,358.56 268.58,358.75 268.83,358.94 269.09,359.13 269.35,359.32 269.61,359.50 269.87,359.68 270.13,359.87 270.39,360.05 270.65,360.23 270.91,360.41 271.17,360.58 271.43,360.76 271.69,360.93 271.95,361.10 272.21,361.27 272.46,361.44 272.72,361.61 272.98,361.78 273.24,361.94 273.50,362.11 273.76,362.27 274.02,362.43 274.28,362.59 274.54,362.75 274.80,362.91 275.06,363.06 275.32,363.22 275.58,363.37 275.83,363.52 276.09,363.67 276.35,363.82 276.61,363.97 276.87,364.12 277.13,364.26 277.39,364.41 277.65,364.55 277.91,364.69 278.17,364.83 278.43,364.97 278.69,365.11 278.95,365.25 279.20,365.38 279.46,365.52 279.72,365.65 279.98,365.78 280.24,365.91 280.50,366.04 280.76,366.17 281.02,366.30 281.28,366.42 281.54,366.55 281.80,366.67 282.06,366.79 282.32,366.91 282.58,367.03 282.83,367.15 283.09,367.27 283.35,367.39 283.61,367.50 283.87,367.62 284.13,367.73 284.39,367.84 284.65,367.95 284.91,368.06 285.17,368.17 285.43,368.28 285.69,368.39 285.95,368.49 286.20,368.60 286.46,368.70 286.72,368.81 286.98,368.91 287.24,369.01 287.50,369.11 287.76,369.21 288.02,369.31 288.28,369.41 288.54,369.50 288.80,369.60 289.06,369.69 289.32,369.79 289.57,369.88 289.83,369.97 290.09,370.06 290.35,370.15 290.61,370.24 290.87,370.33 291.13,370.42 291.39,370.50 291.65,370.59 291.91,370.67 292.17,370.76 292.43,370.84 292.69,370.92 292.94,371.00 293.20,371.09 293.46,371.17 293.72,371.25 293.98,371.32 294.24,371.40 294.50,371.48 294.76,371.55 295.02,371.63 295.28,371.70 295.54,371.78 295.80,371.85 296.06,371.92 296.32,372.00 296.57,372.07 296.83,372.14 297.09,372.21 297.35,372.28 297.61,372.34 297.87,372.41 298.13,372.48 298.39,372.55 298.65,372.61 298.91,372.68 299.17,372.74 299.43,372.80 299.69,372.87 299.94,372.93 300.20,372.99 300.46,373.05 300.72,373.11 300.98,373.17 301.24,373.23 301.50,373.29 301.76,373.35 302.02,373.41 302.28,373.47 302.54,373.52 302.80,373.58 303.06,373.63 303.31,373.69 303.57,373.74 303.83,373.80 304.09,373.85 304.35,373.90 304.61,373.95 304.87,374.01 305.13,374.06 305.39,374.11 305.65,374.16 305.91,374.21 306.17,374.26 306.43,374.31 306.69,374.35 306.94,374.40 307.20,374.45 307.46,374.50 307.72,374.54 307.98,374.59 308.24,374.63 308.50,374.68 308.76,374.72 309.02,374.77 309.28,374.81 309.54,374.85 309.80,374.90 310.06,374.94 310.31,374.98 310.57,375.02 310.83,375.06 311.09,375.10 311.35,375.14 311.61,375.18 311.87,375.22 312.13,375.26 312.39,375.30 312.65,375.34 312.91,375.38 313.17,375.41 313.43,375.45 313.68,375.49 313.94,375.52 314.20,375.56 314.46,375.59 314.72,375.63 314.98,375.66 315.24,375.70 315.50,375.73 315.76,375.77 316.02,375.80 316.28,375.83 316.54,375.87 316.80,375.90 317.06,375.93 317.31,375.96 317.57,376.00 317.83,376.03 318.09,376.06 318.35,376.09 318.61,376.12 318.87,376.15 319.13,376.18 319.39,376.21 319.65,376.24 319.91,376.27 320.17,376.29 320.43,376.32 320.68,376.35 320.94,376.38 321.20,376.40 321.46,376.43 321.72,376.46 321.98,376.49 322.24,376.51" fill="none" stroke="#D2462E" stroke-width="1.5" stroke-linejoin="round"/>
<polyline points="218.80,379.10 219.06,379.05 219.32,378.91 219.58,378.69 219.84,378.39 220.10,378.02 220.36,377.58 220.61,377.08 220.87,376.54 221.13,375.94 221.39,375.30 221.65,374.61 221.91,373.90 222.17,373.15 222.43,372.37 222.69,371.57 222.95,370.74 223.21,369.90 223.47,369.04 223.73,368.17 223.98,367.29 224.24,366.40 224.50,365.51 224.76,364.61 225.02,363.70 225.28,362.80 225.54,361.90 225.80,361.00 226.06,360.11 226.32,359.22 226.58,358.34 226.84,357.46 227.10,356.60 227.36,355.74 227.61,354.90 227.87,354.06 228.13,353.24 228.39,352.43 228.65,351.64 228.91,350.86 229.17,350.09 229.43,349.34 229.69,348.60 229.95,347.88 230.21,347.18 230.47,346.49 230.73,345.82 230.98,345.16 231.24,344.53 231.50,343.90 231.76,343.30 232.02,342.71 232.28,342.14 232.54,341.59 232.80,341.05 233.06,340.53 233.32,340.03 233.58,339.55 233.84,339.08 234.10,338.63 234.35,338.19 234.61,337.77 234.87,337.37 235.13,336.98 235.39,336.61 235.65,336.26 235.91,335.92 236.17,335.60 236.43,335.29 236.69,334.99 236.95,334.71 237.21,334.45 237.47,334.20 237.73,333.96 237.98,333.74 238.24,333.53 238.50,333.34 238.76,333.16 239.02,332.99 239.28,332.83 239.54,332.68 239.80,332.55 240.06,332.43 240.32,332.32 240.58,332.23 240.84,332.14 241.10,332.06 241.35,332.00 241.61,331.94 241.87,331.90 242.13,331.87 242.39,331.84 242.65,331.83 242.91,331.82 243.17,331.82 243.43,331.84 243.69,331.86 243.95,331.89 244.21,331.92 244.47,331.97 244.72,332.02 244.98,332.08 245.24,332.15 245.50,332.22 245.76,332.30 246.02,332.39 246.28,332.48 246.54,332.58 246.80,332.69 247.06,332.80 247.32,332.92 247.58,333.05 247.84,333.17 248.10,333.31 248.35,333.45 248.61,333.59 248.87,333.74 249.13,333.89 249.39,334.05 249.65,334.21 249.91,334.38 250.17,334.55 250.43,334.72 250.69,334.90 250.95,335.08 251.21,335.26 251.47,335.45 251.72,335.64 251.98,335.83 252.24,336.03 252.50,336.23 252.76,336.43 253.02,336.63 253.28,336.84 253.54,337.05 253.80,337.26 254.06,337.47 254.32,337.69 254.58,337.90 254.84,338.12 255.09,338.34 255.35,338.56 255.61,338.78 255.87,339.01 256.13,339.23 256.39,339.46 256.65,339.68 256.91,339.91 257.17,340.14 257.43,340.37 257.69,340.60 257.95,340.84 258.21,341.07 258.46,341.30 258.72,341.53 258.98,341.77 259.24,342.00 259.50,342.24 259.76,342.47 260.02,342.71 260.28,342.94 260.54,343.18 260.80,343.41 261.06,343.65 261.32,343.88 261.58,344.12 261.84,344.36 262.09,344.59 262.35,344.83 262.61,345.06 262.87,345.29 263.13,345.53 263.39,345.76 263.65,345.99 263.91,346.23 264.17,346.46 264.43,346.69 264.69,346.92 264.95,347.15 265.21,347.38 265.46,347.61 265.72,347.84 265.98,348.07 266.24,348.29 266.50,348.52 266.76,348.75 267.02,348.97 267.28,349.20 267.54,349.42 267.80,349.64 268.06,349.86 268.32,350.08 268.58,350.30 268.83,350.52 269.09,350.74 269.35,350.95 269.61,351.17 269.87,351.39 270.13,351.60 270.39,351.81 270.65,352.02 270.91,352.23 271.17,352.44 271.43,352.65 271.69,352.86 271.95,353.06 272.21,353.27 272.46,353.47 272.72,353.68 272.98,353.88 273.24,354.08 273.50,354.28 273.76,354.48 274.02,354.67 274.28,354.87 274.54,355.07 274.80,355.26 275.06,355.45 275.32,355.64 275.58,355.83 275.83,356.02 276.09,356.21 276.35,356.40 276.61,356.58 276.87,356.77 277.13,356.95 277.39,357.13 277.65,357.31 277.91,357.49 278.17,357.67 278.43,357.85 278.69,358.02 278.95,358.20 279.20,358.37 279.46,358.54 279.72,358.72 279.98,358.89 280.24,359.05 280.50,359.22 280.76,359.39 281.02,359.55 281.28,359.72 281.54,359.88 281.80,360.04 282.06,360.20 282.32,360.36 282.58,360.52 282.83,360.68 283.09,360.83 283.35,360.99 283.61,361.14 283.87,361.30 284.13,361.45 284.39,361.60 284.65,361.75 284.91,361.89 285.17,362.04 285.43,362.19 285.69,362.33 285.95,362.48 286.20,362.62 286.46,362.76 286.72,362.90 286.98,363.04 287.24,363.18 287.50,363.31 287.76,363.45 288.02,363.59 288.28,363.72 288.54,363.85 288.80,363.98 289.06,364.12 289.32,364.25 289.57,364.37 289.83,364.50 290.09,364.63 290.35,364.75 290.61,364.88 290.87,365.00 291.13,365.12 291.39,365.25 291.65,365.37 291.91,365.49 292.17,365.61 292.43,365.72 292.69,365.84 292.94,365.96 293.20,366.07 293.46,366.19 293.72,366.30 293.98,366.41 294.24,366.52 294.50,366.63 294.76,366.74 295.02,366.85 295.28,366.96 295.54,367.06 295.80,367.17 296.06,367.28 296.32,367.38 296.57,367.48 296.83,367.58 297.09,367.69 297.35,367.79 297.61,367.89 297.87,367.99 298.13,368.08 298.39,368.18 298.65,368.28 298.91,368.37 299.17,368.47 299.43,368.56 299.69,368.66 299.94,368.75 300.20,368.84 300.46,368.93 300.72,369.02 300.98,369.11 301.24,369.20 301.50,369.29 301.76,369.37 302.02,369.46 302.28,369.55 302.54,369.63 302.80,369.71 303.06,369.80 303.31,369.88 303.57,369.96 303.83,370.04 304.09,370.12 304.35,370.20 304.61,370.28 304.87,370.36 305.13,370.44 305.39,370.52 305.65,370.59 305.91,370.67 306.17,370.74 306.43,370.82 306.69,370.89 306.94,370.97 307.20,371.04 307.46,371.11 307.72,371.18 307.98,371.25 308.24,371.32 308.50,371.39 308.76,371.46 309.02,371.53 309.28,371.60 309.54,371.66 309.80,371.73 310.06,371.80 310.31,371.86 310.57,371.93 310.83,371.99 311.09,372.05 311.35,372.12 311.61,372.18 311.87,372.24 312.13,372.30 312.39,372.36 312.65,372.43 312.91,372.48 313.17,372.54 313.43,372.60 313.68,372.66 313.94,372.72 314.20,372.78 314.46,372.83 314.72,372.89 314.98,372.94 315.24,373.00 315.50,373.05 315.76,373.11 316.02,373.16 316.28,373.22 316.54,373.27 316.80,373.32 317.06,373.37 317.31,373.42 317.57,373.48 317.83,373.53 318.09,373.58 318.35,373.63 318.61,373.68 318.87,373.72 319.13,373.77 319.39,373.82 319.65,373.87 319.91,373.92 320.17,373.96 320.43,374.01 320.68,374.05 320.94,374.10 321.20,374.14 321.46,374.19 321.72,374.23 321.98,374.28 322.24,374.32" fill="none" stroke="#1C6EA0" stroke-width="1.5" stroke-linejoin="round"/>
<polyline points="218.80,379.10 219.88,378.53 220.96,377.31 222.03,375.16 223.11,372.66 225.27,367.29 227.42,361.20 231.73,350.82 236.04,331.56 244.66,322.32 253.28,341.15 270.52,360.84 322.24,378.24" fill="none" stroke="#222222" stroke-width="1.5" stroke-linejoin="round" stroke-linecap="butt"/>
</g>
<rect x="213.60" y="288.30" width="114.20" height="97.00" fill="none" stroke="#555555" stroke-width="1"/>
<line x1="218.80" y1="385.30" x2="218.80" y2="389.60" stroke="#555555" stroke-width="1" />
<text x="218.80" y="400.90" font-size="8" text-anchor="middle" fill="#444444" stroke="#444444" stroke-width="0.12" >0</text>
<line x1="261.90" y1="385.30" x2="261.90" y2="389.60" stroke="#555555" stroke-width="1" />
<text x="261.90" y="400.90" font-size="8" text-anchor="middle" fill="#444444" stroke="#444444" stroke-width="0.12" >10</text>
<line x1="305.00" y1="385.30" x2="305.00" y2="389.60" stroke="#555555" stroke-width="1" />
<text x="305.00" y="400.90" font-size="8" text-anchor="middle" fill="#444444" stroke="#444444" stroke-width="0.12" >20</text>
<line x1="208.80" y1="379.10" x2="213.60" y2="379.10" stroke="#555555" stroke-width="1" />
<text x="204.30" y="382.00" font-size="8" text-anchor="end" fill="#444444" stroke="#444444" stroke-width="0.12" >0.0</text>
<line x1="208.80" y1="361.20" x2="213.60" y2="361.20" stroke="#555555" stroke-width="1" />
<text x="204.30" y="364.10" font-size="8" text-anchor="end" fill="#444444" stroke="#444444" stroke-width="0.12" >2.5</text>
<line x1="208.80" y1="343.30" x2="213.60" y2="343.30" stroke="#555555" stroke-width="1" />
<text x="204.30" y="346.20" font-size="8" text-anchor="end" fill="#444444" stroke="#444444" stroke-width="0.12" >5.0</text>
<line x1="208.80" y1="325.40" x2="213.60" y2="325.40" stroke="#555555" stroke-width="1" />
<text x="204.30" y="328.30" font-size="8" text-anchor="end" fill="#444444" stroke="#444444" stroke-width="0.12" >7.5</text>
<line x1="208.80" y1="307.50" x2="213.60" y2="307.50" stroke="#555555" stroke-width="1" />
<text x="204.30" y="310.40" font-size="8" text-anchor="end" fill="#444444" stroke="#444444" stroke-width="0.12" >10.0</text>
<line x1="208.80" y1="289.60" x2="213.60" y2="289.60" stroke="#555555" stroke-width="1" />
<text x="204.30" y="292.50" font-size="8" text-anchor="end" fill="#444444" stroke="#444444" stroke-width="0.12" >12.5</text>
<text x="270.70" y="413.40" font-size="8" text-anchor="middle" fill="#444444" stroke="#444444" stroke-width="0.12" >Time (h)</text>
<text x="179.50" y="336.80" font-size="8" text-anchor="middle" fill="#444444" stroke="#444444" stroke-width="0.12" transform="rotate(-90 179.50 336.80)" dominant-baseline="central">Concentration (mg/L)</text>
<text x="270.70" y="280.10" font-size="8" text-anchor="middle" fill="#444444" stroke="#444444" stroke-width="0.12" >Rifampicin</text>
<line x1="380.50" y1="179.20" x2="507.00" y2="179.20" stroke="#DCDCDC" stroke-width="0.8" />
<line x1="380.50" y1="160.64" x2="507.00" y2="160.64" stroke="#DCDCDC" stroke-width="0.8" />
<line x1="380.50" y1="142.07" x2="507.00" y2="142.07" stroke="#DCDCDC" stroke-width="0.8" />
<line x1="380.50" y1="123.51" x2="507.00" y2="123.51" stroke="#DCDCDC" stroke-width="0.8" />
<line x1="380.50" y1="104.95" x2="507.00" y2="104.95" stroke="#DCDCDC" stroke-width="0.8" />
<line x1="380.50" y1="86.39" x2="507.00" y2="86.39" stroke="#DCDCDC" stroke-width="0.8" />
<line x1="380.50" y1="67.82" x2="507.00" y2="67.82" stroke="#DCDCDC" stroke-width="0.8" />
<line x1="380.50" y1="49.26" x2="507.00" y2="49.26" stroke="#DCDCDC" stroke-width="0.8" />
<line x1="380.50" y1="30.70" x2="507.00" y2="30.70" stroke="#DCDCDC" stroke-width="0.8" />
<line x1="411.80" y1="23.20" x2="411.80" y2="186.40" stroke="#DCDCDC" stroke-width="0.8" />
<line x1="475.50" y1="23.20" x2="475.50" y2="186.40" stroke="#DCDCDC" stroke-width="0.8" />
<line x1="411.80" y1="125.67" x2="411.80" y2="146.90" stroke="#222222" stroke-width="1.45" />
<line x1="411.80" y1="166.73" x2="411.80" y2="176.53" stroke="#222222" stroke-width="1.45" />
<line x1="403.40" y1="125.67" x2="420.20" y2="125.67" stroke="#222222" stroke-width="1.45" />
<line x1="403.40" y1="176.53" x2="420.20" y2="176.53" stroke="#222222" stroke-width="1.45" />
<rect x="396.00" y="146.90" width="31.60" height="19.82" fill="#1E6997" stroke="#222222" stroke-width="1.45"/>
<line x1="396.00" y1="160.49" x2="427.60" y2="160.49" stroke="#222222" stroke-width="1.45" />
<circle cx="411.80" cy="110.07" r="2.25" fill="none" stroke="#222222" stroke-width="1.3"/>
<line x1="475.50" y1="60.47" x2="475.50" y2="117.42" stroke="#222222" stroke-width="1.45" />
<line x1="475.50" y1="157.44" x2="475.50" y2="174.52" stroke="#222222" stroke-width="1.45" />
<line x1="467.10" y1="60.47" x2="483.90" y2="60.47" stroke="#222222" stroke-width="1.45" />
<line x1="467.10" y1="174.52" x2="483.90" y2="174.52" stroke="#222222" stroke-width="1.45" />
<rect x="459.70" y="117.42" width="31.60" height="40.02" fill="#D05140" stroke="#222222" stroke-width="1.45"/>
<line x1="459.70" y1="144.15" x2="491.30" y2="144.15" stroke="#222222" stroke-width="1.45" />
<circle cx="475.50" cy="38.64" r="2.25" fill="none" stroke="#222222" stroke-width="1.3"/>
<line x1="380.50" y1="150.84" x2="507.00" y2="150.84" stroke="#E8862A" stroke-width="1.4" stroke-dasharray="4.9 2.4"/>
<rect x="380.50" y="23.20" width="126.50" height="163.20" fill="none" stroke="#555555" stroke-width="1"/>
<line x1="375.70" y1="179.20" x2="380.50" y2="179.20" stroke="#555555" stroke-width="1" />
<text x="370.80" y="182.10" font-size="8" text-anchor="end" fill="#444444" stroke="#444444" stroke-width="0.12" >0</text>
<line x1="375.70" y1="160.64" x2="380.50" y2="160.64" stroke="#555555" stroke-width="1" />
<text x="370.80" y="163.54" font-size="8" text-anchor="end" fill="#444444" stroke="#444444" stroke-width="0.12" >25</text>
<line x1="375.70" y1="142.07" x2="380.50" y2="142.07" stroke="#555555" stroke-width="1" />
<text x="370.80" y="144.97" font-size="8" text-anchor="end" fill="#444444" stroke="#444444" stroke-width="0.12" >50</text>
<line x1="375.70" y1="123.51" x2="380.50" y2="123.51" stroke="#555555" stroke-width="1" />
<text x="370.80" y="126.41" font-size="8" text-anchor="end" fill="#444444" stroke="#444444" stroke-width="0.12" >75</text>
<line x1="375.70" y1="104.95" x2="380.50" y2="104.95" stroke="#555555" stroke-width="1" />
<text x="370.80" y="107.85" font-size="8" text-anchor="end" fill="#444444" stroke="#444444" stroke-width="0.12" >100</text>
<line x1="375.70" y1="86.39" x2="380.50" y2="86.39" stroke="#555555" stroke-width="1" />
<text x="370.80" y="89.29" font-size="8" text-anchor="end" fill="#444444" stroke="#444444" stroke-width="0.12" >125</text>
<line x1="375.70" y1="67.82" x2="380.50" y2="67.82" stroke="#555555" stroke-width="1" />
<text x="370.80" y="70.72" font-size="8" text-anchor="end" fill="#444444" stroke="#444444" stroke-width="0.12" >150</text>
<line x1="375.70" y1="49.26" x2="380.50" y2="49.26" stroke="#555555" stroke-width="1" />
<text x="370.80" y="52.16" font-size="8" text-anchor="end" fill="#444444" stroke="#444444" stroke-width="0.12" >175</text>
<line x1="375.70" y1="30.70" x2="380.50" y2="30.70" stroke="#555555" stroke-width="1" />
<text x="370.80" y="33.60" font-size="8" text-anchor="end" fill="#444444" stroke="#444444" stroke-width="0.12" >200</text>
<line x1="411.80" y1="186.40" x2="411.80" y2="190.80" stroke="#555555" stroke-width="1" />
<text x="411.80" y="201.90" font-size="8" text-anchor="middle" font-style="italic" fill="#444444" stroke="#444444" stroke-width="0.12" >CYP2B6*1</text>
<line x1="475.50" y1="186.40" x2="475.50" y2="190.80" stroke="#555555" stroke-width="1" />
<text x="475.50" y="201.90" font-size="8" text-anchor="middle" font-style="italic" fill="#444444" stroke="#444444" stroke-width="0.12" >CYP2B6*6</text>
<text x="347.80" y="104.80" font-size="8" text-anchor="middle" fill="#444444" stroke="#444444" stroke-width="0.12" transform="rotate(-90 347.80 104.80)" dominant-baseline="central">Cmax (ng/mL)</text>
<text x="443.75" y="15.30" font-size="8" text-anchor="middle" fill="#444444" stroke="#444444" stroke-width="0.12" >Standard dose</text>
<line x1="548.50" y1="179.20" x2="675.60" y2="179.20" stroke="#DCDCDC" stroke-width="0.8" />
<line x1="548.50" y1="160.64" x2="675.60" y2="160.64" stroke="#DCDCDC" stroke-width="0.8" />
<line x1="548.50" y1="142.07" x2="675.60" y2="142.07" stroke="#DCDCDC" stroke-width="0.8" />
<line x1="548.50" y1="123.51" x2="675.60" y2="123.51" stroke="#DCDCDC" stroke-width="0.8" />
<line x1="548.50" y1="104.95" x2="675.60" y2="104.95" stroke="#DCDCDC" stroke-width="0.8" />
<line x1="548.50" y1="86.39" x2="675.60" y2="86.39" stroke="#DCDCDC" stroke-width="0.8" />
<line x1="548.50" y1="67.82" x2="675.60" y2="67.82" stroke="#DCDCDC" stroke-width="0.8" />
<line x1="548.50" y1="49.26" x2="675.60" y2="49.26" stroke="#DCDCDC" stroke-width="0.8" />
<line x1="548.50" y1="30.70" x2="675.60" y2="30.70" stroke="#DCDCDC" stroke-width="0.8" />
<line x1="580.30" y1="23.20" x2="580.30" y2="186.40" stroke="#DCDCDC" stroke-width="0.8" />
<line x1="643.50" y1="23.20" x2="643.50" y2="186.40" stroke="#DCDCDC" stroke-width="0.8" />
<line x1="580.30" y1="106.14" x2="580.30" y2="127.74" stroke="#222222" stroke-width="1.45" />
<line x1="580.30" y1="146.75" x2="580.30" y2="157.00" stroke="#222222" stroke-width="1.45" />
<line x1="571.90" y1="106.14" x2="588.70" y2="106.14" stroke="#222222" stroke-width="1.45" />
<line x1="571.90" y1="157.00" x2="588.70" y2="157.00" stroke="#222222" stroke-width="1.45" />
<rect x="564.50" y="127.74" width="31.60" height="19.01" fill="#1E6997" stroke="#222222" stroke-width="1.45"/>
<line x1="564.50" y1="140.52" x2="596.10" y2="140.52" stroke="#222222" stroke-width="1.45" />
<circle cx="580.30" cy="90.69" r="2.25" fill="none" stroke="#222222" stroke-width="1.3"/>
<line x1="643.50" y1="52.23" x2="643.50" y2="108.96" stroke="#222222" stroke-width="1.45" />
<line x1="643.50" y1="148.53" x2="643.50" y2="165.91" stroke="#222222" stroke-width="1.45" />
<line x1="635.10" y1="52.23" x2="651.90" y2="52.23" stroke="#222222" stroke-width="1.45" />
<line x1="635.10" y1="165.91" x2="651.90" y2="165.91" stroke="#222222" stroke-width="1.45" />
<rect x="627.70" y="108.96" width="31.60" height="39.58" fill="#D05140" stroke="#222222" stroke-width="1.45"/>
<line x1="627.70" y1="135.54" x2="659.30" y2="135.54" stroke="#222222" stroke-width="1.45" />
<circle cx="643.50" cy="30.40" r="2.25" fill="none" stroke="#222222" stroke-width="1.3"/>
<line x1="548.50" y1="150.84" x2="675.60" y2="150.84" stroke="#E8862A" stroke-width="1.4" stroke-dasharray="4.9 2.4"/>
<rect x="548.50" y="23.20" width="127.10" height="163.20" fill="none" stroke="#555555" stroke-width="1"/>
<line x1="543.70" y1="179.20" x2="548.50" y2="179.20" stroke="#555555" stroke-width="1" />
<text x="538.90" y="182.10" font-size="8" text-anchor="end" fill="#444444" stroke="#444444" stroke-width="0.12" >0</text>
<line x1="543.70" y1="160.64" x2="548.50" y2="160.64" stroke="#555555" stroke-width="1" />
<text x="538.90" y="163.54" font-size="8" text-anchor="end" fill="#444444" stroke="#444444" stroke-width="0.12" >25</text>
<line x1="543.70" y1="142.07" x2="548.50" y2="142.07" stroke="#555555" stroke-width="1" />
<text x="538.90" y="144.97" font-size="8" text-anchor="end" fill="#444444" stroke="#444444" stroke-width="0.12" >50</text>
<line x1="543.70" y1="123.51" x2="548.50" y2="123.51" stroke="#555555" stroke-width="1" />
<text x="538.90" y="126.41" font-size="8" text-anchor="end" fill="#444444" stroke="#444444" stroke-width="0.12" >75</text>
<line x1="543.70" y1="104.95" x2="548.50" y2="104.95" stroke="#555555" stroke-width="1" />
<text x="538.90" y="107.85" font-size="8" text-anchor="end" fill="#444444" stroke="#444444" stroke-width="0.12" >100</text>
<line x1="543.70" y1="86.39" x2="548.50" y2="86.39" stroke="#555555" stroke-width="1" />
<text x="538.90" y="89.29" font-size="8" text-anchor="end" fill="#444444" stroke="#444444" stroke-width="0.12" >125</text>
<line x1="543.70" y1="67.82" x2="548.50" y2="67.82" stroke="#555555" stroke-width="1" />
<text x="538.90" y="70.72" font-size="8" text-anchor="end" fill="#444444" stroke="#444444" stroke-width="0.12" >150</text>
<line x1="543.70" y1="49.26" x2="548.50" y2="49.26" stroke="#555555" stroke-width="1" />
<text x="538.90" y="52.16" font-size="8" text-anchor="end" fill="#444444" stroke="#444444" stroke-width="0.12" >175</text>
<line x1="543.70" y1="30.70" x2="548.50" y2="30.70" stroke="#555555" stroke-width="1" />
<text x="538.90" y="33.60" font-size="8" text-anchor="end" fill="#444444" stroke="#444444" stroke-width="0.12" >200</text>
<line x1="580.30" y1="186.40" x2="580.30" y2="190.80" stroke="#555555" stroke-width="1" />
<text x="580.30" y="201.90" font-size="8" text-anchor="middle" font-style="italic" fill="#444444" stroke="#444444" stroke-width="0.12" >CYP2B6*1</text>
<line x1="643.50" y1="186.40" x2="643.50" y2="190.80" stroke="#555555" stroke-width="1" />
<text x="643.50" y="201.90" font-size="8" text-anchor="middle" font-style="italic" fill="#444444" stroke="#444444" stroke-width="0.12" >CYP2B6*6</text>
<text x="515.80" y="104.80" font-size="8" text-anchor="middle" fill="#444444" stroke="#444444" stroke-width="0.12" transform="rotate(-90 515.80 104.80)" dominant-baseline="central">Cmax (ng/mL)</text>
<text x="612.05" y="15.30" font-size="8" text-anchor="middle" fill="#444444" stroke="#444444" stroke-width="0.12" >Optimized dose</text>
<line x1="380.70" y1="376.18" x2="507.10" y2="376.18" stroke="#DCDCDC" stroke-width="0.8" />
<line x1="380.70" y1="358.12" x2="507.10" y2="358.12" stroke="#DCDCDC" stroke-width="0.8" />
<line x1="380.70" y1="340.06" x2="507.10" y2="340.06" stroke="#DCDCDC" stroke-width="0.8" />
<line x1="380.70" y1="322.00" x2="507.10" y2="322.00" stroke="#DCDCDC" stroke-width="0.8" />
<line x1="380.70" y1="303.94" x2="507.10" y2="303.94" stroke="#DCDCDC" stroke-width="0.8" />
<line x1="380.70" y1="285.88" x2="507.10" y2="285.88" stroke="#DCDCDC" stroke-width="0.8" />
<line x1="380.70" y1="267.82" x2="507.10" y2="267.82" stroke="#DCDCDC" stroke-width="0.8" />
<line x1="380.70" y1="249.76" x2="507.10" y2="249.76" stroke="#DCDCDC" stroke-width="0.8" />
<line x1="380.70" y1="231.70" x2="507.10" y2="231.70" stroke="#DCDCDC" stroke-width="0.8" />
<line x1="412.00" y1="222.20" x2="412.00" y2="385.20" stroke="#DCDCDC" stroke-width="0.8" />
<line x1="475.50" y1="222.20" x2="475.50" y2="385.20" stroke="#DCDCDC" stroke-width="0.8" />
<line x1="412.00" y1="241.45" x2="412.00" y2="291.48" stroke="#222222" stroke-width="1.45" />
<line x1="412.00" y1="330.49" x2="412.00" y2="360.65" stroke="#222222" stroke-width="1.45" />
<line x1="403.60" y1="241.45" x2="420.40" y2="241.45" stroke="#222222" stroke-width="1.45" />
<line x1="403.60" y1="360.65" x2="420.40" y2="360.65" stroke="#222222" stroke-width="1.45" />
<rect x="396.20" y="291.48" width="31.60" height="39.01" fill="#1E6997" stroke="#222222" stroke-width="1.45"/>
<line x1="396.20" y1="309.72" x2="427.80" y2="309.72" stroke="#222222" stroke-width="1.45" />
<line x1="475.50" y1="254.09" x2="475.50" y2="304.12" stroke="#222222" stroke-width="1.45" />
<line x1="475.50" y1="343.13" x2="475.50" y2="373.29" stroke="#222222" stroke-width="1.45" />
<line x1="467.10" y1="254.09" x2="483.90" y2="254.09" stroke="#222222" stroke-width="1.45" />
<line x1="467.10" y1="373.29" x2="483.90" y2="373.29" stroke="#222222" stroke-width="1.45" />
<rect x="459.70" y="304.12" width="31.60" height="39.01" fill="#D05140" stroke="#222222" stroke-width="1.45"/>
<line x1="459.70" y1="322.36" x2="491.30" y2="322.36" stroke="#222222" stroke-width="1.45" />
<line x1="380.70" y1="332.29" x2="507.10" y2="332.29" stroke="#E8862A" stroke-width="1.4" stroke-dasharray="4.9 2.4"/>
<rect x="380.70" y="222.20" width="126.40" height="163.00" fill="none" stroke="#555555" stroke-width="1"/>
<line x1="375.90" y1="376.18" x2="380.70" y2="376.18" stroke="#555555" stroke-width="1" />
<text x="370.80" y="379.08" font-size="8" text-anchor="end" fill="#444444" stroke="#444444" stroke-width="0.12" >30</text>
<line x1="375.90" y1="358.12" x2="380.70" y2="358.12" stroke="#555555" stroke-width="1" />
<text x="370.80" y="361.02" font-size="8" text-anchor="end" fill="#444444" stroke="#444444" stroke-width="0.12" >40</text>
<line x1="375.90" y1="340.06" x2="380.70" y2="340.06" stroke="#555555" stroke-width="1" />
<text x="370.80" y="342.96" font-size="8" text-anchor="end" fill="#444444" stroke="#444444" stroke-width="0.12" >50</text>
<line x1="375.90" y1="322.00" x2="380.70" y2="322.00" stroke="#555555" stroke-width="1" />
<text x="370.80" y="324.90" font-size="8" text-anchor="end" fill="#444444" stroke="#444444" stroke-width="0.12" >60</text>
<line x1="375.90" y1="303.94" x2="380.70" y2="303.94" stroke="#555555" stroke-width="1" />
<text x="370.80" y="306.84" font-size="8" text-anchor="end" fill="#444444" stroke="#444444" stroke-width="0.12" >70</text>
<line x1="375.90" y1="285.88" x2="380.70" y2="285.88" stroke="#555555" stroke-width="1" />
<text x="370.80" y="288.78" font-size="8" text-anchor="end" fill="#444444" stroke="#444444" stroke-width="0.12" >80</text>
<line x1="375.90" y1="267.82" x2="380.70" y2="267.82" stroke="#555555" stroke-width="1" />
<text x="370.80" y="270.72" font-size="8" text-anchor="end" fill="#444444" stroke="#444444" stroke-width="0.12" >90</text>
<line x1="375.90" y1="249.76" x2="380.70" y2="249.76" stroke="#555555" stroke-width="1" />
<text x="370.80" y="252.66" font-size="8" text-anchor="end" fill="#444444" stroke="#444444" stroke-width="0.12" >100</text>
<line x1="375.90" y1="231.70" x2="380.70" y2="231.70" stroke="#555555" stroke-width="1" />
<text x="370.80" y="234.60" font-size="8" text-anchor="end" fill="#444444" stroke="#444444" stroke-width="0.12" >110</text>
<line x1="412.00" y1="385.20" x2="412.00" y2="389.60" stroke="#555555" stroke-width="1" />
<text x="412.00" y="400.80" font-size="8" text-anchor="middle" font-style="italic" fill="#444444" stroke="#444444" stroke-width="0.12" >SLCO1B1</text>
<line x1="475.50" y1="385.20" x2="475.50" y2="389.60" stroke="#555555" stroke-width="1" />
<text x="475.50" y="400.80" font-size="8" text-anchor="middle" font-style="italic" fill="#444444" stroke="#444444" stroke-width="0.12" >SLCO1B1</text>
<text x="475.50" y="408.80" font-size="8" text-anchor="middle" fill="#444444" stroke="#444444" stroke-width="0.12" >rs4149032</text>
<text x="348.00" y="303.70" font-size="8" text-anchor="middle" fill="#444444" stroke="#444444" stroke-width="0.12" transform="rotate(-90 348.00 303.70)" dominant-baseline="central">AUC (ug·h/mL)</text>
<text x="443.90" y="214.00" font-size="8" text-anchor="middle" fill="#444444" stroke="#444444" stroke-width="0.12" >Standard dose</text>
<line x1="548.40" y1="376.18" x2="675.80" y2="376.18" stroke="#DCDCDC" stroke-width="0.8" />
<line x1="548.40" y1="358.12" x2="675.80" y2="358.12" stroke="#DCDCDC" stroke-width="0.8" />
<line x1="548.40" y1="340.06" x2="675.80" y2="340.06" stroke="#DCDCDC" stroke-width="0.8" />
<line x1="548.40" y1="322.00" x2="675.80" y2="322.00" stroke="#DCDCDC" stroke-width="0.8" />
<line x1="548.40" y1="303.94" x2="675.80" y2="303.94" stroke="#DCDCDC" stroke-width="0.8" />
<line x1="548.40" y1="285.88" x2="675.80" y2="285.88" stroke="#DCDCDC" stroke-width="0.8" />
<line x1="548.40" y1="267.82" x2="675.80" y2="267.82" stroke="#DCDCDC" stroke-width="0.8" />
<line x1="548.40" y1="249.76" x2="675.80" y2="249.76" stroke="#DCDCDC" stroke-width="0.8" />
<line x1="548.40" y1="231.70" x2="675.80" y2="231.70" stroke="#DCDCDC" stroke-width="0.8" />
<line x1="580.30" y1="222.20" x2="580.30" y2="385.20" stroke="#DCDCDC" stroke-width="0.8" />
<line x1="643.50" y1="222.20" x2="643.50" y2="385.20" stroke="#DCDCDC" stroke-width="0.8" />
<line x1="580.30" y1="241.81" x2="580.30" y2="291.30" stroke="#222222" stroke-width="1.45" />
<line x1="580.30" y1="330.31" x2="580.30" y2="360.83" stroke="#222222" stroke-width="1.45" />
<line x1="571.90" y1="241.81" x2="588.70" y2="241.81" stroke="#222222" stroke-width="1.45" />
<line x1="571.90" y1="360.83" x2="588.70" y2="360.83" stroke="#222222" stroke-width="1.45" />
<rect x="564.50" y="291.30" width="31.60" height="39.01" fill="#1E6997" stroke="#222222" stroke-width="1.45"/>
<line x1="564.50" y1="310.26" x2="596.10" y2="310.26" stroke="#222222" stroke-width="1.45" />
<line x1="643.50" y1="239.29" x2="643.50" y2="289.13" stroke="#222222" stroke-width="1.45" />
<line x1="643.50" y1="328.32" x2="643.50" y2="358.48" stroke="#222222" stroke-width="1.45" />
<line x1="635.10" y1="239.29" x2="651.90" y2="239.29" stroke="#222222" stroke-width="1.45" />
<line x1="635.10" y1="358.48" x2="651.90" y2="358.48" stroke="#222222" stroke-width="1.45" />
<rect x="627.70" y="289.13" width="31.60" height="39.19" fill="#D05140" stroke="#222222" stroke-width="1.45"/>
<line x1="627.70" y1="308.09" x2="659.30" y2="308.09" stroke="#222222" stroke-width="1.45" />
<line x1="548.40" y1="332.29" x2="675.80" y2="332.29" stroke="#E8862A" stroke-width="1.4" stroke-dasharray="4.9 2.4"/>
<rect x="548.40" y="222.20" width="127.40" height="163.00" fill="none" stroke="#555555" stroke-width="1"/>
<line x1="543.60" y1="376.18" x2="548.40" y2="376.18" stroke="#555555" stroke-width="1" />
<text x="538.90" y="379.08" font-size="8" text-anchor="end" fill="#444444" stroke="#444444" stroke-width="0.12" >30</text>
<line x1="543.60" y1="358.12" x2="548.40" y2="358.12" stroke="#555555" stroke-width="1" />
<text x="538.90" y="361.02" font-size="8" text-anchor="end" fill="#444444" stroke="#444444" stroke-width="0.12" >40</text>
<line x1="543.60" y1="340.06" x2="548.40" y2="340.06" stroke="#555555" stroke-width="1" />
<text x="538.90" y="342.96" font-size="8" text-anchor="end" fill="#444444" stroke="#444444" stroke-width="0.12" >50</text>
<line x1="543.60" y1="322.00" x2="548.40" y2="322.00" stroke="#555555" stroke-width="1" />
<text x="538.90" y="324.90" font-size="8" text-anchor="end" fill="#444444" stroke="#444444" stroke-width="0.12" >60</text>
<line x1="543.60" y1="303.94" x2="548.40" y2="303.94" stroke="#555555" stroke-width="1" />
<text x="538.90" y="306.84" font-size="8" text-anchor="end" fill="#444444" stroke="#444444" stroke-width="0.12" >70</text>
<line x1="543.60" y1="285.88" x2="548.40" y2="285.88" stroke="#555555" stroke-width="1" />
<text x="538.90" y="288.78" font-size="8" text-anchor="end" fill="#444444" stroke="#444444" stroke-width="0.12" >80</text>
<line x1="543.60" y1="267.82" x2="548.40" y2="267.82" stroke="#555555" stroke-width="1" />
<text x="538.90" y="270.72" font-size="8" text-anchor="end" fill="#444444" stroke="#444444" stroke-width="0.12" >90</text>
<line x1="543.60" y1="249.76" x2="548.40" y2="249.76" stroke="#555555" stroke-width="1" />
<text x="538.90" y="252.66" font-size="8" text-anchor="end" fill="#444444" stroke="#444444" stroke-width="0.12" >100</text>
<line x1="543.60" y1="231.70" x2="548.40" y2="231.70" stroke="#555555" stroke-width="1" />
<text x="538.90" y="234.60" font-size="8" text-anchor="end" fill="#444444" stroke="#444444" stroke-width="0.12" >110</text>
<line x1="580.30" y1="385.20" x2="580.30" y2="389.60" stroke="#555555" stroke-width="1" />
<text x="580.30" y="400.80" font-size="8" text-anchor="middle" font-style="italic" fill="#444444" stroke="#444444" stroke-width="0.12" >SLCO1B1</text>
<line x1="643.50" y1="385.20" x2="643.50" y2="389.60" stroke="#555555" stroke-width="1" />
<text x="643.50" y="400.80" font-size="8" text-anchor="middle" font-style="italic" fill="#444444" stroke="#444444" stroke-width="0.12" >SLCO1B1</text>
<text x="643.50" y="408.80" font-size="8" text-anchor="middle" fill="#444444" stroke="#444444" stroke-width="0.12" >rs4149032</text>
<text x="515.70" y="303.70" font-size="8" text-anchor="middle" fill="#444444" stroke="#444444" stroke-width="0.12" transform="rotate(-90 515.70 303.70)" dominant-baseline="central">AUC (ug·h/mL)</text>
<text x="612.10" y="214.00" font-size="8" text-anchor="middle" fill="#444444" stroke="#444444" stroke-width="0.12" >Optimized dose</text>
<rect x="343.2" y="7.0" width="45.0" height="12.0" rx="2.2" fill="#DCDCDC"/>
<text x="365.70" y="15.20" font-size="8" text-anchor="middle" fill="#333" stroke="#333" stroke-width="0.12" >Artemether</text>
<rect x="343.0" y="206.0" width="42.8" height="11.8" rx="2.2" fill="#DCDCDC"/>
<text x="364.40" y="214.20" font-size="8" text-anchor="middle" fill="#333" stroke="#333" stroke-width="0.12" >Rifampicin</text>
</svg>
</body></html>
